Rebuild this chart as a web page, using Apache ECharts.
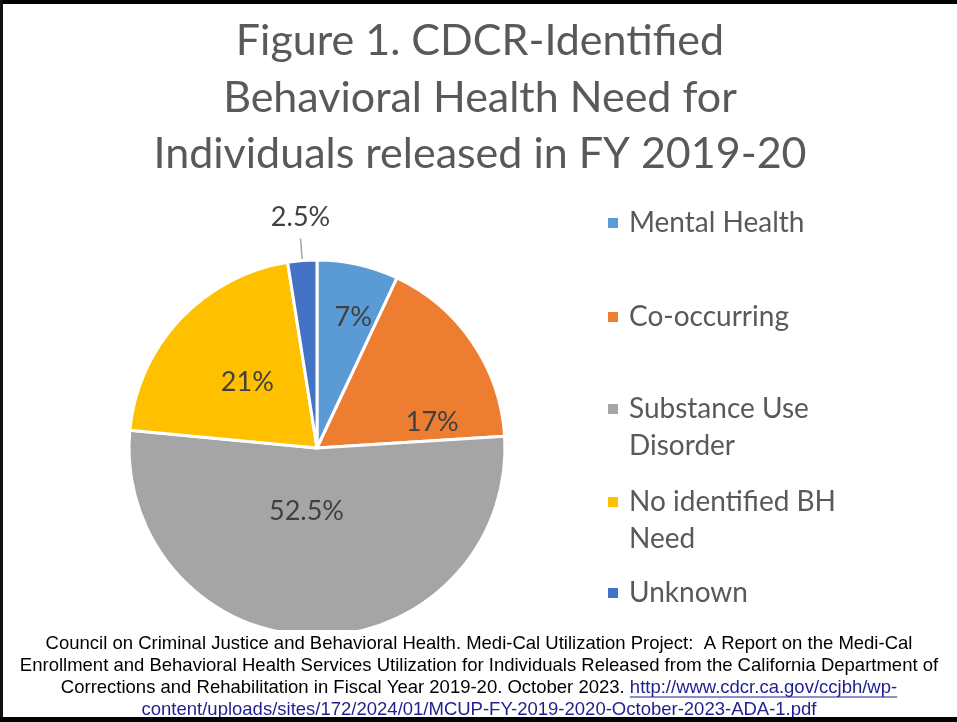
<!DOCTYPE html>
<html>
<head>
<meta charset="utf-8">
<script src="https://cdn.jsdelivr.net/npm/echarts@6/dist/echarts.min.js"></script>
<style>
  html, body { margin: 0; padding: 0; background: #fff; }
  #chart { width: 957px; height: 722px; }
</style>
</head>
<body>
<div id="chart"></div>
<script>
// Behavioral health need categories and their shares (%)
const categories = ['Mental Health', 'Co-occurring', 'Substance Use Disorder', 'No identified BH Need', 'Unknown'];
const shares = [7, 17, 52.5, 21, 2.5];

const titleLines = [
  'Figure 1. CDCR-Identified',
  'Behavioral Health Need for',
  'Individuals released in FY 2019-20'
];

// Legend text broken onto lines the way the legend shows them
const legendLines = {
  'Mental Health': ['Mental Health'],
  'Co-occurring': ['Co-occurring'],
  'Substance Use Disorder': ['Substance Use', 'Disorder'],
  'No identified BH Need': ['No identified BH', 'Need'],
  'Unknown': ['Unknown']
};

const sourceText = [
  'Council on Criminal Justice and Behavioral Health. Medi-Cal Utilization Project:  A Report on the Medi-Cal',
  'Enrollment and Behavioral Health Services Utilization for Individuals Released from the California Department of',
  'Corrections and Rehabilitation in Fiscal Year 2019-20. October 2023. '
];
const sourceLink = [
  'http://www.cdcr.ca.gov/ccjbh/wp-',
  'content/uploads/sites/172/2024/01/MCUP-FY-2019-2020-October-2023-ADA-1.pdf'
];

const palette = ['#5B9BD5', '#ED7D31', '#A5A5A5', '#FFC000', '#4472C4'];
const labelFont = 'Lato';
const footFont = '"Liberation Sans", Arial, sans-serif';
const footSize = 18.5;
const footLineH = 22;
const footCx = 479;
const footTop = 633;

// label nudges away from the default mid-radius spot
const labelNudge = [
  { dx: 15, dy: -36 },
  { dx: 35, dy: 29 },
  { dx: -9, dy: -34 },
  { dx: 1, dy: 1 },
  { dx: 5, dy: -8, align: 'center', verticalAlign: 'bottom' }
];

const chart = echarts.init(document.getElementById('chart'), null, { renderer: 'canvas' });

// one legend block per entry, so each keeps its own vertical slot
const legendCentres = [223, 317, 409, 502, 593];
const legends = categories.map((name, i) => {
  const lines = legendLines[name];
  // a blank line above two-line entries keeps the marker beside the first line
  const text = lines.length > 1 ? '\n' + lines.join('\n') : lines[0];
  const nLines = lines.length > 1 ? 3 : 1;
  return {
    data: [name],
    orient: 'vertical',
    left: 606,
    top: legendCentres[i] - nLines * 37 / 2,
    padding: 0,
    itemGap: 0,
    itemWidth: 12,
    itemHeight: 12,
    icon: 'rect',
    selectedMode: false,
    formatter: () => text,
    textStyle: {
      fontFamily: labelFont,
      fontSize: 28,
      color: '#595959',
      lineHeight: 37,
      padding: [0, 0, 0, 5]
    }
  };
});

// underline segments for the link text
const measure = document.createElement('canvas').getContext('2d');
measure.font = footSize + 'px ' + footFont;
const w3plain = measure.measureText(sourceText[2]).width;
const w3link = measure.measureText(sourceLink[0]).width;
const w4link = measure.measureText(sourceLink[1]).width;
const l3left = footCx - (w3plain + w3link) / 2;
const ul3y = footTop + footLineH * 2.5 + 9;
const ul4y = footTop + footLineH * 3.5 + 9;

const footerRich = [
  '{t|' + sourceText[0] + '}',
  '{t|' + sourceText[1] + '}',
  '{t|' + sourceText[2] + '}{a|' + sourceLink[0] + '}',
  '{a|' + sourceLink[1] + '}'
].join('\n');

chart.setOption({
  animation: false,
  backgroundColor: '#ffffff',
  color: palette,
  title: {
    text: titleLines.join('\n'),
    left: 475,
    top: 8,
    textAlign: 'center',
    textStyle: {
      fontFamily: labelFont,
      fontSize: 43,
      fontWeight: 'normal',
      color: '#595959',
      lineHeight: 56.5
    }
  },
  legend: legends,
  series: [{
    type: 'pie',
    center: [317, 448],
    radius: 188,
    startAngle: 90,
    clockwise: true,
    avoidLabelOverlap: false,
    itemStyle: { borderColor: '#ffffff', borderWidth: 3 },
    label: {
      show: true,
      position: 'inside',
      formatter: '{c}%',
      fontFamily: labelFont,
      fontSize: 27,
      color: '#404040'
    },
    labelLine: { show: false },
    labelLayout: (p) => labelNudge[p.dataIndex],
    emphasis: { disabled: true },
    data: categories.map((name, i) => {
      const item = { name, value: shares[i] };
      if (name === 'Unknown') {
        item.label = { position: 'outside', distanceToLabelLine: 5 };
        item.labelLine = {
          show: true, length: 22, length2: 0,
          lineStyle: { color: '#A5A5A5', width: 1.5 }
        };
      }
      return item;
    })
  }],
  graphic: [
    {
      type: 'rect', z: 100,
      shape: { x: 0, y: 630, width: 957, height: 88 },
      style: { fill: '#ffffff' }
    },
    {
      type: 'text', z: 101,
      x: footCx, y: footTop,
      style: {
        text: footerRich,
        align: 'center',
        verticalAlign: 'top',
        font: footSize + 'px ' + footFont,
        lineHeight: footLineH,
        rich: {
          t: { fill: '#000000', font: footSize + 'px ' + footFont, lineHeight: footLineH },
          a: { fill: '#1F1F8F', font: footSize + 'px ' + footFont, lineHeight: footLineH }
        }
      }
    },
    {
      type: 'line', z: 101,
      shape: { x1: l3left + w3plain, y1: ul3y, x2: l3left + w3plain + w3link, y2: ul3y },
      style: { stroke: '#1F1F8F', lineWidth: 1 }
    },
    {
      type: 'line', z: 101,
      shape: { x1: footCx - w4link / 2, y1: ul4y, x2: footCx + w4link / 2, y2: ul4y },
      style: { stroke: '#1F1F8F', lineWidth: 1 }
    },
    // frame: top, left and bottom rules
    { type: 'rect', z: 102, shape: { x: 0, y: 0, width: 957, height: 4 }, style: { fill: '#000000' } },
    { type: 'rect', z: 102, shape: { x: 0, y: 0, width: 3, height: 722 }, style: { fill: '#111111' } },
    { type: 'rect', z: 102, shape: { x: 0, y: 717, width: 957, height: 5 }, style: { fill: '#000000' } }
  ]
});
</script>
</body>
</html>
